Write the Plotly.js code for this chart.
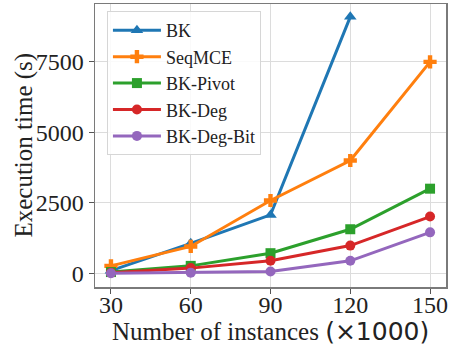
<!DOCTYPE html>
<html>
<head>
<meta charset="utf-8">
<script src="https://cdn.plot.ly/plotly-3.0.1.min.js"></script>
<style>
  html, body { margin: 0; padding: 0; background: #fff; }
  #chart { width: 454px; height: 347px; }
</style>
</head>
<body>
<div id="chart"></div>
<script>
// Number of instances (thousands)
const instances = [30, 60, 90, 120, 150];

// Execution time in seconds for each algorithm
const bk        = [90, 1060, 2070, 9100];
const seqMCE    = [260, 950, 2580, 4000, 7500];
const bkPivot   = [40, 260, 710, 1560, 3000];
const bkDeg     = [20, 180, 440, 980, 2010];
const bkDegBit  = [0, 20, 60, 440, 1450];

const seriesNames = ['BK', 'SeqMCE', 'BK-Pivot', 'BK-Deg', 'BK-Deg-Bit'];
const seriesData  = [bk, seqMCE, bkPivot, bkDeg, bkDegBit];
const colors  = ['#1f77b4', '#ff7f0e', '#2ca02c', '#d62728', '#9467bd'];
const symbols = ['triangle-up', 'cross', 'square', 'circle', 'circle'];
const sizes   = [11, 11, 10, 10, 10];

const traces = seriesData.map((vals, i) => ({
  x: instances.slice(0, vals.length),
  y: vals,
  name: seriesNames[i],
  type: 'scatter',
  mode: 'lines+markers',
  line: { color: colors[i], width: 3 },
  marker: {
    symbol: symbols[i],
    size: sizes[i],
    color: colors[i],
    line: { width: 0 }
  }
}));

const serif = 'Liberation Serif, Times New Roman, serif';
const textColor = '#222';

const layout = {
  width: 454,
  height: 347,
  margin: { l: 95, r: 8, t: 4, b: 60 },
  paper_bgcolor: '#ffffff',
  plot_bgcolor: '#ffffff',
  font: { family: serif, size: 24, color: textColor },
  showlegend: true,
  legend: {
    x: 0.034, y: 0.975, xanchor: 'left', yanchor: 'top',
    bgcolor: 'rgba(255,255,255,0.85)',
    bordercolor: '#d6d6d6', borderwidth: 1,
    font: { family: serif, size: 18, color: textColor },
    itemwidth: 48,
    tracegroupgap: 0
  },
  xaxis: {
    range: [24, 156],
    tickvals: instances,
    ticktext: instances.map(String),
    showgrid: true, gridcolor: '#dcdcdc', gridwidth: 1,
    zeroline: false,
    showline: true, linecolor: '#7a7a7a', linewidth: 1.5, mirror: true,
    ticks: 'outside', ticklen: 5, tickcolor: '#555', tickwidth: 1,
    ticklabelstandoff: -9,
    tickfont: { family: serif, size: 24, color: textColor }
  },
  yaxis: {
    range: [-490, 9555],
    tickvals: [0, 2500, 5000, 7500],
    showgrid: true, gridcolor: '#dcdcdc', gridwidth: 1,
    zeroline: false,
    showline: true, linecolor: '#7a7a7a', linewidth: 1.5, mirror: true,
    ticks: 'outside', ticklen: 5, tickcolor: '#555', tickwidth: 1,
    tickfont: { family: serif, size: 24, color: textColor }
  },
  annotations: [
    {
      text: 'Number of instances <span style="font-family:DejaVu Sans;font-size:25px">(×1000)</span>',
      xref: 'paper', yref: 'paper', x: 0.5, y: -0.158,
      xanchor: 'center', yanchor: 'middle', showarrow: false,
      font: { family: serif, size: 25, color: textColor }
    },
    {
      text: 'Execution time (s)',
      xref: 'paper', yref: 'paper', x: -0.205, y: 0.5,
      xanchor: 'center', yanchor: 'middle', textangle: -90, showarrow: false,
      font: { family: serif, size: 25, color: textColor }
    }
  ]
};

Plotly.newPlot('chart', traces, layout, { displayModeBar: false, staticPlot: true });
</script>
</body>
</html>
